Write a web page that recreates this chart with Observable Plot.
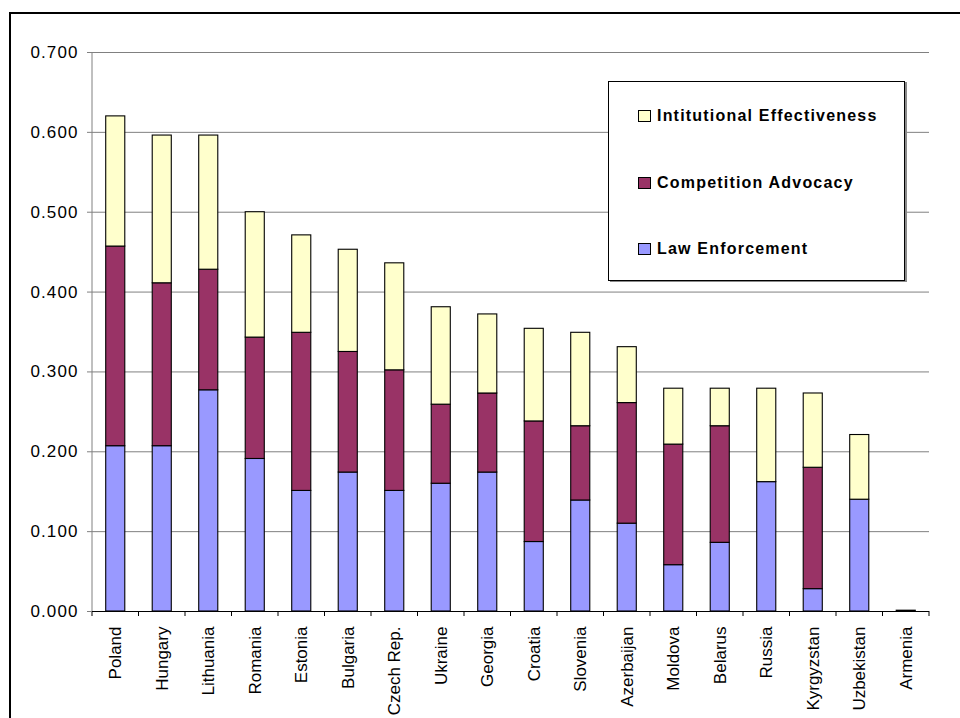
<!DOCTYPE html>
<html>
<head>
<meta charset="utf-8">
<script src="https://cdn.jsdelivr.net/npm/d3@7"></script>
<script src="https://cdn.jsdelivr.net/npm/@observablehq/plot@0.6"></script>
<style>
  html, body { margin: 0; padding: 0; background: #fff; overflow: hidden; }
  #wrap { position: relative; width: 960px; height: 718px; overflow: hidden; font-family: "Liberation Sans", Arial, sans-serif; }
  #frame { position: absolute; left: 9px; top: 12px; width: 1000px; height: 1000px; border: 2px solid #000; box-sizing: border-box; }
  #chart { position: absolute; left: 0; top: 0; }
  #legend { position: absolute; left: 608px; top: 81px; width: 297px; height: 200px; box-sizing: border-box; background: #fff; border: 1px solid #000; box-shadow: 2px 1px 0 #8a8a8a; }
  .row { position: absolute; left: 29px; height: 20px; display: flex; align-items: center; font-weight: bold; font-size: 16px; letter-spacing: 1.2px; color: #000; }
  .sw { width: 11px; height: 10px; border: 1px solid #000; margin-right: 6px; }
</style>
</head>
<body>
<div id="wrap">
  <div id="frame"></div>
  <div id="chart"></div>
  <div id="legend"></div>
</div>
<script>
const countries = ["Poland","Hungary","Lithuania","Romania","Estonia","Bulgaria","Czech Rep.","Ukraine","Georgia","Croatia","Slovenia","Azerbaijan","Moldova","Belarus","Russia","Kyrgyzstan","Uzbekistan","Armenia"];
const seriesNames = ["Law Enforcement","Competition Advocacy","Intitutional Effectiveness"];
const lawEnforcement =            [0.207,0.207,0.277,0.191,0.151,0.174,0.151,0.160,0.174,0.087,0.139,0.110,0.058,0.086,0.162,0.028,0.140,0.001];
const competitionAdvocacy =       [0.250,0.204,0.151,0.152,0.198,0.151,0.151,0.099,0.099,0.151,0.093,0.151,0.151,0.146,0.000,0.152,0.000,0.000];
const institutionalEffectiveness = [0.163,0.185,0.168,0.157,0.122,0.128,0.134,0.122,0.099,0.116,0.117,0.070,0.070,0.047,0.117,0.093,0.081,0.000];
const seriesColors = ["#9999FF","#993366","#FFFFCC"];
const yTicks = [0,0.1,0.2,0.3,0.4,0.5,0.6,0.7];

const values = [lawEnforcement, competitionAdvocacy, institutionalEffectiveness];
const data = [];
countries.forEach((c, i) => {
  seriesNames.forEach((s, j) => data.push({country: c, series: s, value: values[j][i]}));
});

const font = '"Liberation Sans", Arial, sans-serif';

function boundaryTicks(index, scales, vals, dimensions) {
  const x = scales.x;
  const step = x.step(), bw = x.bandwidth();
  const y0 = dimensions.height - dimensions.marginBottom;
  const yTop = dimensions.marginTop;
  const g = d3.create("svg:g");
  const dom = x.domain();
  const xs = dom.map(d => x(d) - (step - bw) / 2);
  xs.push(x(dom[dom.length - 1]) + bw + (step - bw) / 2);
  g.selectAll("line.t").data(xs).join("line")
    .attr("x1", d => d).attr("x2", d => d)
    .attr("y1", y0).attr("y2", y0 + 5)
    .attr("stroke", "#000").attr("stroke-width", 1);
  g.append("line")
    .attr("x1", dimensions.marginLeft).attr("x2", dimensions.marginLeft)
    .attr("y1", yTop).attr("y2", y0)
    .attr("stroke", "#808080").attr("stroke-width", 1);
  return g.node();
}

const chart = Plot.plot({
  width: 960,
  height: 718,
  marginLeft: 92,
  marginRight: 31,
  marginTop: 52,
  marginBottom: 107,
  style: {fontFamily: font, background: "transparent", overflow: "visible"},
  x: {domain: countries, paddingInner: 0.59, paddingOuter: 0.295, round: false, label: null},
  y: {domain: [0, 0.7], label: null},
  color: {domain: seriesNames, range: seriesColors},
  marks: [
    Plot.gridY(yTicks, {stroke: "#808080", strokeOpacity: 1, strokeWidth: 1}),
    Plot.barY(data, Plot.stackY({order: seriesNames}, {x: "country", y: "value", fill: "series", stroke: "#000", strokeWidth: 1.1})),
    Plot.ruleY([0], {stroke: "#000", strokeWidth: 1}),
    boundaryTicks,
    Plot.axisY(yTicks, {tickSize: 5, tickPadding: 9, tickFormat: d3.format(".3f"), fontSize: 17, label: null, stroke: "#808080", fill: "#000"}),
    Plot.axisX({tickSize: 0, tickRotate: -90, tickPadding: 15, fontSize: 17, label: null, fill: "#000"})
  ]
});
chart.querySelectorAll("g[aria-label='y-axis tick label'] text").forEach(t => t.setAttribute("letter-spacing", "1.1"));
document.getElementById("chart").appendChild(chart);

// Legend (top to bottom: reverse stacking order)
const legend = d3.select("#legend");
const rowTops = [24, 91, 157];
seriesNames.slice().reverse().forEach((s, i) => {
  const row = legend.append("div").attr("class", "row").style("top", rowTops[i] + "px");
  row.append("div").attr("class", "sw").style("background", seriesColors[seriesNames.indexOf(s)]);
  row.append("span").text(s);
});
</script>
</body>
</html>
